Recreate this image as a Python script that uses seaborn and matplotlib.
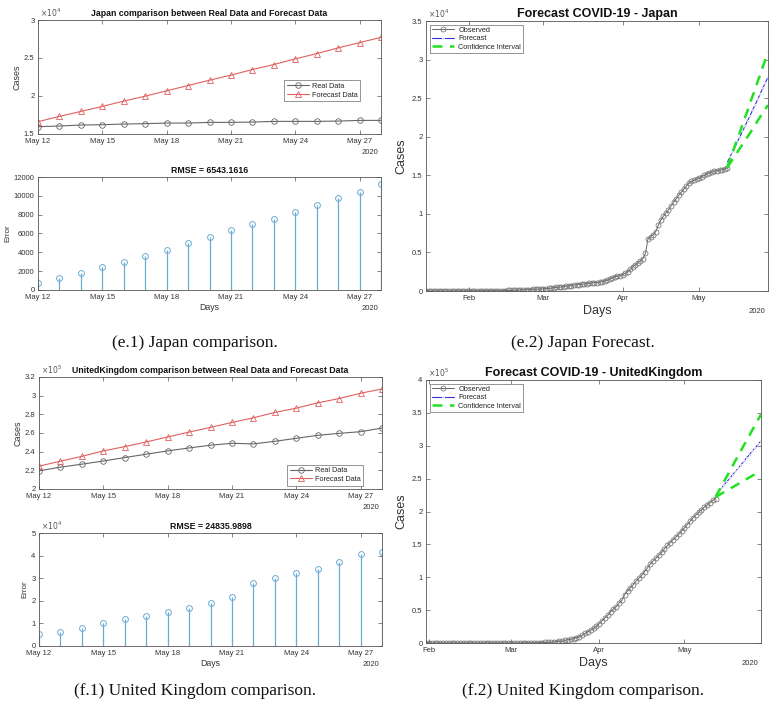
import numpy as np
import pandas as pd
import matplotlib
matplotlib.use("Agg")
import matplotlib.pyplot as plt
import matplotlib.dates as mdates
from matplotlib.ticker import FuncFormatter
import seaborn as sns

# ---- data ----
cmp_days = pd.date_range("2020-05-12", "2020-05-28")

jp_real = [15960, 16050, 16180, 16220, 16310, 16360, 16440, 16440, 16530, 16530,
           16570, 16660, 16660, 16660, 16700, 16790, 16790]
jp_fc = [16620, 17320, 17970, 18630, 19330, 19980, 20680, 21380, 22080, 22740,
         23480, 24140, 24880, 25580, 26330, 27020, 27720]
jp_err = [710, 1280, 1770, 2410, 3000, 3660, 4300, 4970, 5600, 6320,
          7000, 7560, 8300, 9000, 9730, 10440, 11220]
jp_rmse = "RMSE = 6543.1616"

uk_real = [219500, 223400, 226600, 230000, 233700, 237300, 240800, 244000, 246900, 249000,
           248300, 251100, 254300, 257500, 259600, 261400, 265300]
uk_fc = [224500, 229800, 235000, 240800, 245400, 250400, 255700, 261000, 266000, 271300,
         276300, 282000, 286600, 292300, 296900, 302600, 307200]
uk_err = [5200, 6400, 8100, 10000, 12000, 13300, 15100, 16700, 19100, 21900,
          27700, 30200, 32200, 34200, 37000, 40500, 41600]
uk_rmse = "RMSE = 24835.9898"

# observed cumulative cases (daily)
jp_obs_start = "2020-01-15"
jp_obs = [1, 1, 1, 1, 1, 1, 1, 2, 2, 4, 4, 7, 7, 11, 15, 17, 20,
          20, 20, 20, 22, 25, 25, 25, 26, 26, 26, 28, 28, 29, 43, 59, 66, 74, 84, 94, 105,
          122, 147, 159, 170, 189, 214, 228, 241, 256,
          274, 293, 331, 360, 420, 461, 502, 511, 581, 639, 639, 701, 773, 814, 833,
          878, 911, 950, 1000, 1050, 1070, 1090, 1130, 1200, 1300, 1390, 1500, 1720, 1870, 1910, 2000,
          2100, 2300, 2500, 2800, 3150, 3400, 3650, 3900, 4200, 4900, 6800, 7000, 7300, 7700, 8500,
          9200, 9700, 10100, 10500, 11000, 11500, 11950, 12400, 12800, 13200, 13600, 14000, 14200, 14350, 14500,
          14600, 14800, 15000, 15150, 15300, 15400, 15500, 15600, 15650, 15700, 15800, 15950]
jp_ci_hi = [16000, 16900, 17800, 18800, 19700, 20600, 21600, 22500, 23400, 24400,
            25300, 26200, 27200, 28100, 29100, 30000, 31000]
jp_ci_lo = [16000, 16500, 17000, 17500, 18000, 18500, 19000, 19500, 20000, 20500,
            21000, 21550, 22100, 22600, 23100, 23600, 24100]

uk_obs_start = "2020-01-31"
uk_obs = [2,
          2, 2, 2, 2, 2, 2, 3, 3, 3, 8, 8, 9, 9, 9, 9, 9, 9, 9, 9, 9, 9, 9, 9, 13, 13, 13, 15, 20, 23,
          36, 40, 51, 85, 115, 163, 206, 273, 321, 382, 456, 460, 798, 1140, 1140,
          1543, 1950, 2626, 2689, 3983, 5018, 5683, 6650, 8077, 9529, 11658, 14543, 17089, 19522, 22141, 25150,
          29474, 33718, 38168, 41903, 47806, 51608, 55242, 60733, 65077, 73758, 78991, 84279, 88621, 93873, 98476,
          103093, 108692, 114217, 120067, 124743, 129044, 133495, 138078, 143464, 148377,
          152840, 157149, 161145, 165221, 170000,
          175000, 180000, 185000, 190000, 194500, 198500, 202500, 206500, 210000, 213500, 217000, 219500]
uk_ci_hi = [222000, 230000, 238000, 246000, 253500, 261500, 269500, 277500, 285000, 293000,
            301000, 308500, 316500, 324500, 332000, 340000, 347500]
uk_ci_lo = [222000, 224500, 227000, 229500, 232000, 234500, 237000, 239500, 242000, 244500,
            247000, 249500, 252000, 254500, 257000, 259500, 261500]

# ---- style ----
sns.set_theme(style="white")
plt.rcParams['font.family'] = ['Liberation Sans', 'DejaVu Sans']
TXT = '#333333'
GREY = '#666666'
RED = '#e06060'
STEM = '#68acd4'
BLUE = '#3333dd'
GREEN = '#22e022'


def matlab_axes(ax, fs=5.5):
    ax.tick_params(direction='in', length=3, width=0.5, top=True, right=True,
                   labelsize=fs, colors='#555555', labelcolor=TXT,
                   bottom=True, left=True)
    ax.tick_params(axis='x', pad=3)
    ax.tick_params(axis='y', pad=2.5)
    for s in ax.spines.values():
        s.set_visible(True)
        s.set_linewidth(0.6)
        s.set_color('#555555')
    ax.grid(False)


def exponent(ax, p, fs=5.5):
    ax.text(0.005, 1.005, r'$\times10^{%d}$' % p, transform=ax.transAxes,
            fontsize=fs, color='#555555', ha='left', va='bottom')


def year_label(ax, fs=5.5, off=-16):
    ax.annotate('2020', xy=(1, 0), xycoords='axes fraction', xytext=(-2, off),
                textcoords='offset points', ha='right', va='top', fontsize=fs, color=TXT)


def scaled(p):
    return FuncFormatter(lambda v, _: '%g' % round(v / 10 ** p, 4))


def comparison(ax, real, fc, title, p, ylim, yticks, anchor):
    df = pd.DataFrame({'day': cmp_days, 'Real Data': real, 'Forecast Data': fc})
    sns.lineplot(data=df, x='day', y='Real Data', ax=ax, color=GREY, lw=0.8,
                 marker='o', ms=4, mfc='none', mec=GREY, mew=0.6, label='Real Data')
    sns.lineplot(data=df, x='day', y='Forecast Data', ax=ax, color=RED, lw=0.8,
                 marker='^', ms=4.5, mfc='none', mec=RED, mew=0.6, label='Forecast Data')
    ax.set_xlim(cmp_days[0], cmp_days[-1])
    ax.set_ylim(*ylim)
    ax.set_yticks(yticks)
    ax.yaxis.set_major_formatter(scaled(p))
    ax.set_xticks(cmp_days[::3])
    ax.xaxis.set_major_formatter(mdates.DateFormatter('%b %-d'))
    ax.set_title(title, fontsize=6.3, fontweight='bold', pad=3, color='#111111')
    ax.set_xlabel('')
    ax.set_ylabel('Cases', fontsize=6.5, color=TXT, labelpad=2)
    matlab_axes(ax)
    exponent(ax, p)
    year_label(ax, off=-11)
    leg = ax.legend(loc=anchor[0], bbox_to_anchor=anchor[1], fontsize=5.3, frameon=True,
                    fancybox=False, borderpad=0.35, handlelength=3, labelspacing=0.2,
                    handletextpad=0.4, borderaxespad=0)
    leg.get_frame().set_edgecolor('#444444')
    leg.get_frame().set_linewidth(0.5)


def error_plot(ax, err, title, p, ylim, yticks):
    df = pd.DataFrame({'day': cmp_days, 'err': err})
    ax.vlines(df['day'], 0, df['err'], color=STEM, lw=0.9)
    sns.lineplot(data=df, x='day', y='err', ax=ax, ls='none', marker='o', ms=4.2,
                 mfc='none', mec=STEM, mew=0.7)
    ax.set_xlim(cmp_days[0], cmp_days[-1])
    ax.set_ylim(*ylim)
    ax.set_yticks(yticks)
    if p:
        ax.yaxis.set_major_formatter(scaled(p))
        exponent(ax, p)
    ax.set_xticks(cmp_days[::3])
    ax.xaxis.set_major_formatter(mdates.DateFormatter('%b %-d'))
    ax.set_title(title, fontsize=6.3, fontweight='bold', pad=3, color='#111111')
    ax.set_xlabel('Days', fontsize=6.3, color=TXT, labelpad=1)
    ax.set_ylabel('Error', fontsize=5.8, color=TXT, labelpad=2)
    matlab_axes(ax)
    year_label(ax, off=-11)


def forecast(ax, obs, start, fc, hi, lo, title, p, ylim, yticks):
    obs_days = pd.date_range(start, periods=len(obs))
    d_obs = pd.DataFrame({'day': obs_days, 'cases': obs})
    d_fc = pd.DataFrame({'day': cmp_days, 'fc': fc, 'hi': hi, 'lo': lo})
    sns.lineplot(data=d_obs, x='day', y='cases', ax=ax, color=GREY, lw=0.7,
                 marker='o', ms=3.6, mfc='none', mec='#707070', mew=0.55, label='Observed')
    sns.lineplot(data=d_fc, x='day', y='fc', ax=ax, color=BLUE, lw=0.8,
                 marker='.', ms=2.5, label='Forecast')
    sns.lineplot(data=d_fc, x='day', y='hi', ax=ax, color=GREEN, lw=1.8,
                 ls=(0, (4, 3)), label='Confidence Interval')
    sns.lineplot(data=d_fc, x='day', y='lo', ax=ax, color=GREEN, lw=1.8,
                 ls=(0, (4, 3)))
    ax.set_xlim(obs_days[0], cmp_days[-1])
    ax.set_ylim(*ylim)
    ax.set_yticks(yticks)
    ax.yaxis.set_major_formatter(scaled(p))
    ax.set_xticks(pd.to_datetime(['2020-02-01', '2020-03-01', '2020-04-01', '2020-05-01']))
    ax.xaxis.set_major_formatter(mdates.DateFormatter('%b'))
    ax.set_title(title, fontsize=9, fontweight='bold', pad=3, color='#111111')
    ax.set_xlabel('Days', fontsize=9, color=TXT, labelpad=2)
    ax.set_ylabel('Cases', fontsize=9, color=TXT, labelpad=3)
    matlab_axes(ax)
    exponent(ax, p)
    year_label(ax, off=-12)
    leg = ax.legend(loc='upper left', fontsize=5.3, frameon=True, fancybox=False,
                    borderpad=0.3, handlelength=3, labelspacing=0.15, handletextpad=0.6,
                    borderaxespad=0.5)
    leg.get_frame().set_edgecolor('#444444')
    leg.get_frame().set_linewidth(0.5)


fig = plt.figure(figsize=(7.76, 7.02), dpi=100)
W, H = 776.0, 702.0


def add_ax(l, t, r, b):
    return fig.add_axes([l / W, 1 - b / H, (r - l) / W, (b - t) / H])


ax1 = add_ax(38, 20, 381, 134)
ax2 = add_ax(38, 177, 381, 290)
ax3 = add_ax(426, 21, 768, 291)
ax4 = add_ax(39, 377, 382, 489)
ax5 = add_ax(39, 533, 382, 646)
ax6 = add_ax(426, 380, 761, 643)

comparison(ax1, jp_real, jp_fc, 'Japan comparison between Real Data and Forecast Data',
           4, (15000, 30000), [15000, 20000, 25000, 30000], ('center right', (0.94, 0.38)))
error_plot(ax2, jp_err, jp_rmse, 0, (0, 12000), list(range(0, 12001, 2000)))
forecast(ax3, jp_obs, jp_obs_start, jp_fc, jp_ci_hi, jp_ci_lo, 'Forecast COVID-19 - Japan',
         4, (0, 35000), list(range(0, 35001, 5000)))
comparison(ax4, uk_real, uk_fc, 'UnitedKingdom comparison between Real Data and Forecast Data',
           5, (200000, 320000), list(range(200000, 320001, 20000)), ('lower right', (0.945, 0.03)))
error_plot(ax5, uk_err, uk_rmse, 4, (0, 50000), list(range(0, 50001, 10000)))
forecast(ax6, uk_obs, uk_obs_start, uk_fc, uk_ci_hi, uk_ci_lo, 'Forecast COVID-19 - UnitedKingdom',
         5, (0, 400000), list(range(0, 400001, 50000)))

caps = [(195, 343, '(e.1) Japan comparison.'),
        (583, 343, '(e.2) Japan Forecast.'),
        (195, 691, '(f.1) United Kingdom comparison.'),
        (583, 691, '(f.2) United Kingdom comparison.')]
for x, y, s in caps:
    fig.text(x / W, 1 - y / H, s, ha='center', va='center', fontsize=12.5,
             family=['Liberation Serif', 'DejaVu Serif'], color='#111111')

fig.savefig('out.png', dpi=100, facecolor='white')
